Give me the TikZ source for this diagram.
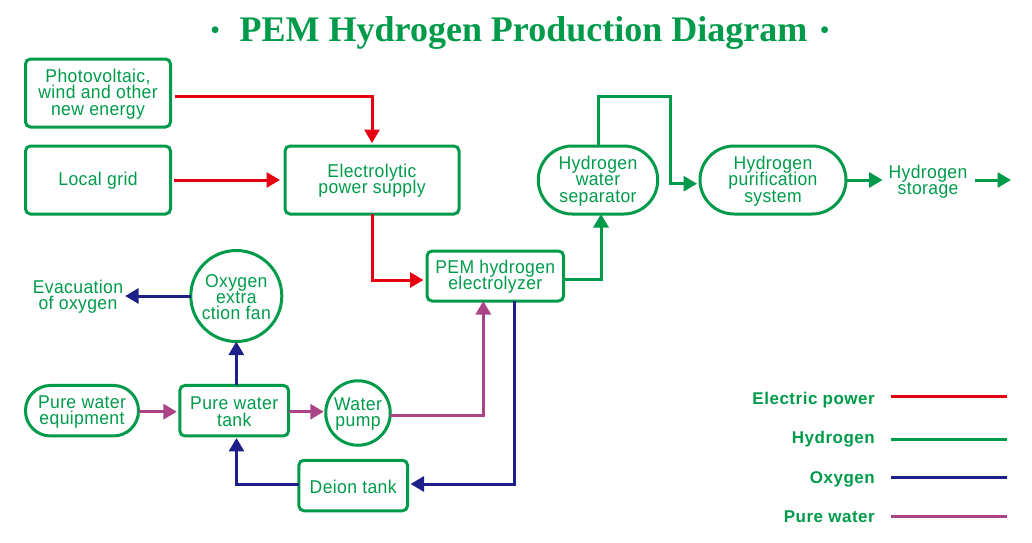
\documentclass[tikz,border=0pt]{standalone}
\usepackage{fontspec}
\setmainfont{Liberation Sans}
\newfontfamily\titlefont{Liberation Serif}
\newfontfamily\labelfont[LetterSpace=2,FakeStretch=0.95]{Liberation Sans}
\newfontfamily\legfont[LetterSpace=3]{Liberation Sans}
\usetikzlibrary{arrows.meta,calc}
\definecolor{pgreen}{HTML}{009B4A}
\definecolor{pred}{HTML}{E60012}
\definecolor{pblue}{HTML}{1D2088}
\definecolor{ppurple}{HTML}{AB4387}
\newcommand\mytext[1]{\raisebox{-1pt}[\height][\depth]{\vbox{\lineskiplimit=-100pt\relax\let\\\cr\halign{\hfil##\hfil\cr #1\crcr}}}}
\tikzset{
  lab/.style={text=pgreen,font=\labelfont\fontsize{18.5}{16.3}\selectfont,inner sep=0pt,outer sep=0pt},
  box/.style={lab,draw=pgreen,line width=3pt,rounded corners=5pt,minimum width=#1},
  pill/.style={lab,draw=pgreen,line width=3pt,minimum width=#1},
  disc/.style={lab,draw=pgreen,line width=3pt,circle,minimum size=#1},
  con/.style={line width=3pt,-{Triangle[length=13.5pt,width=15pt]}},
  legtext/.style={text=pgreen,font=\legfont\bfseries\fontsize{17}{18}\selectfont,anchor=base east,inner sep=0pt},
  legline/.style={line width=3pt},
  titletext/.style={text=pgreen,font=\titlefont\bfseries\fontsize{36}{40}\selectfont,inner sep=0pt,anchor=base},
}
\newcommand\tdot{\raisebox{2.3pt}{\fontsize{25}{25}\selectfont •}}
\begin{document}
\begin{tikzpicture}[x=1pt,y=-1pt]
\useasboundingbox (0,0) rectangle (1032,542);
\node[titletext] (title) at (520,41) {\tdot\hspace{20pt}PEM Hydrogen Production Diagram\hspace{13pt}\tdot};

\node[box=145pt,minimum height=68pt] (pv) at (98,93) {\mytext{Photovoltaic,\\wind and other\\new energy}};
\node[box=145pt,minimum height=68pt] (lg) at (98,180) {\mytext{Local grid}};
\node[box=174pt,minimum height=68pt] (ep) at (372,180) {\mytext{Electrolytic\\power supply}};
\node[box=136.5pt,minimum height=50pt] (pem) at (495.3,276) {\mytext{PEM hydrogen\\electrolyzer}};
\node[pill=119.5pt,minimum height=68pt,rounded corners=34pt] (sep) at (598,180) {\mytext{Hydrogen\\water\\separator}};
\node[pill=146pt,minimum height=68pt,rounded corners=34pt] (pur) at (773,180) {\mytext{Hydrogen\\purification\\system}};
\node[lab] (hs) at (928,181) {\mytext{Hydrogen\\storage}};
\node[disc=91pt] (fan) at (236.3,296) {\mytext{Oxygen\\extra\\ction fan}};
\node[lab] (evac) at (78,296) {\mytext{Evacuation\\of oxygen}};
\node[pill=113pt,minimum height=50.5pt,rounded corners=25pt] (pwe) at (82,410.7) {\mytext{Pure water\\equipment}};
\node[box=108.7pt,minimum height=50.5pt] (pwt) at (234.2,410.7) {\mytext{Pure water\\tank}};
\node[disc=64.5pt] (pump) at (358,413) {\mytext{Water\\pump}};
\node[box=108.7pt,minimum height=50.5pt] (deion) at (353.2,485.5) {\mytext{Deion tank}};

\coordinate (bend) at (670.7,96.5);
\coordinate (hsend) at (1011,180);
\coordinate (y279) at (0,279);
\coordinate (y412) at (0,411.7);
\coordinate (y180) at (0,180);

% electric power
\draw[con,pred,shorten >=3pt] ([shift={(4pt,-3pt)}]pv.east) -| (ep.north);
\draw[con,pred,shorten >=5pt] ([xshift=3pt]lg.east) -- (ep.west);
\draw[con,pred,shorten >=3.5pt] (ep.south) |- ([yshift=-4pt]pem.west);
% hydrogen
\draw[con,pgreen] (pem.east |- y279) -| ([xshift=3pt]sep.south);
\draw[con,pgreen,shorten >=3pt] (sep.north) |- (bend) |- ([yshift=-3.7pt]pur.west);
\draw[con,pgreen,shorten >=6pt] (pur.east) -- (hs.west |- y180);
\draw[con,pgreen] ([xshift=8pt]hs.east |- y180) -- (hsend);
% oxygen
\draw[con,pblue,shorten >=3pt] ([xshift=19pt]pem.south) |- ([yshift=1.5pt]deion.east);
\draw[con,pblue,shorten >=2pt] ([yshift=1.5pt]deion.west) -| ([xshift=2.3pt]pwt.south);
\draw[con,pblue] (pwt.north -| fan.south) -- (fan.south);
\draw[con,pblue,shorten >=2pt] (fan.west) -- (evac.east |- fan.west);
% pure water
\draw[con,ppurple,shorten >=3pt] ([yshift=-1pt]pwe.east) -- ([yshift=-1pt]pwt.west);
\draw[con,ppurple,shorten >=2pt] ([yshift=-1pt]pwt.east) -- (pump.west |- y412);
\draw[con,ppurple] ([yshift=-2pt]pump.east) -| ([xshift=-12pt]pem.south);

% legend
\node[legtext] (l1) at (875,404) {Electric power};
\node[legtext] (l2) at (875,443) {Hydrogen};
\node[legtext] (l3) at (875,483) {Oxygen};
\node[legtext] (l4) at (875,522) {Pure water};
\coordinate (e1) at (1007,396);
\coordinate (e2) at (1007,439);
\coordinate (e3) at (1007,477);
\coordinate (e4) at (1007,516);
\draw[legline,pred] (l1.east |- e1) ++(16,0) -- (e1);
\draw[legline,pgreen] (l2.east |- e2) ++(16,0) -- (e2);
\draw[legline,pblue] (l3.east |- e3) ++(16,0) -- (e3);
\draw[legline,ppurple] (l4.east |- e4) ++(16,0) -- (e4);
\end{tikzpicture}
\end{document}
